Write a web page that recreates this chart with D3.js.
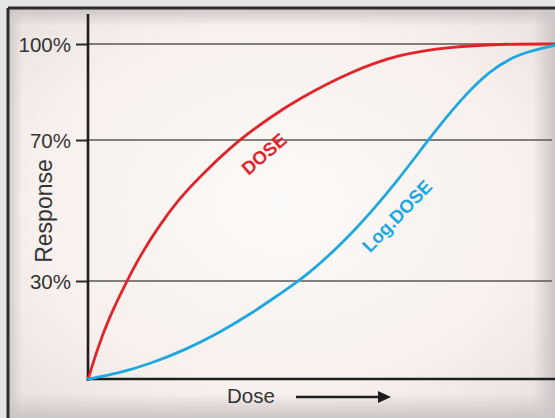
<!DOCTYPE html>
<html>
<head>
    <title>Dose response</title>
    <script src='https://cdn.jsdelivr.net/npm/d3@7/dist/d3.min.js' charset='utf-8'></script>
    <style type="text/css">
        html, body { margin: 0; padding: 0; background: #fff; }
        svg { display: block; }
        .chart text { font-family: "Liberation Sans", Arial, sans-serif; fill: #333; }
    </style>
</head>
<body>
    <svg class='chart'></svg>

    <script type='text/javascript'>
    var width = 555;
    var height = 418;

    // values (dose in % of axis length, response in %)
    var doseRed = [0, 2.2, 4.3, 8.3, 11.5, 15.1, 19.3, 24.3, 32.2, 39.3, 44.7, 56.1, 66.8, 77.5, 88.2, 100];
    var respRed = [0, 9.9, 18.1, 30, 37.9, 45.4, 53, 60.1, 70, 77.3, 82.5, 91.3, 96.9, 99.1, 100, 100];

    var doseBlue = [0, 6.5, 13.6, 20.8, 27.9, 35.1, 42.2, 46.5, 56.1, 66.8, 72.8, 79.7, 86.1, 92.5, 100];
    var respBlue = [0, 1.7, 4.8, 8.9, 14, 20.1, 27.2, 31.2, 42.5, 59.2, 70, 82.5, 91.9, 97.2, 99.6];

    var seriesNames = ['DOSE', 'Log.DOSE'];
    var seriesColors = ['#e2242a', '#1fa8df'];
    var tickValues = [30, 70, 100];
    var tickLabels = ['30%', '70%', '100%'];

    var svg = d3.select('.chart')
        .attr('width', width)
        .attr('height', height);

    var defs = svg.append('defs');
    var grad = defs.append('radialGradient')
        .attr('id', 'bg')
        .attr('cx', '50%').attr('cy', '48%').attr('r', '70%');
    grad.append('stop').attr('offset', '0%').attr('stop-color', '#fcfaf8');
    grad.append('stop').attr('offset', '65%').attr('stop-color', '#f7f0ed');
    grad.append('stop').attr('offset', '100%').attr('stop-color', '#e8e0de');

    function shade(id, x2, y2, from, to) {
        var g = defs.append('linearGradient')
            .attr('id', id)
            .attr('x1', 0).attr('y1', 0).attr('x2', x2).attr('y2', y2);
        g.append('stop').attr('offset', '0%').attr('stop-color', '#cdc6c6').attr('stop-opacity', from);
        g.append('stop').attr('offset', '100%').attr('stop-color', '#cdc6c6').attr('stop-opacity', to);
    }
    shade('bottomShade', 0, 1, 0, 1);
    shade('rightShade', 1, 0, 0, 1);
    shade('topShade', 0, 1, 1, 0);
    shade('leftShade', 1, 0, 0.9, 0);

    // frame
    svg.append('rect').attr('x', 0).attr('y', 0).attr('width', width).attr('height', height).attr('fill', '#e6e4e4');
    svg.append('rect').attr('x', 8).attr('y', 8).attr('width', width - 8).attr('height', height - 8).attr('fill', 'url(#bg)');
    svg.append('rect').attr('x', 8).attr('y', 394).attr('width', width - 8).attr('height', 24).attr('fill', 'url(#bottomShade)');
    svg.append('rect').attr('x', 533).attr('y', 8).attr('width', 22).attr('height', height - 8).attr('fill', 'url(#rightShade)');
    svg.append('rect').attr('x', 8).attr('y', 8).attr('width', width - 8).attr('height', 18).attr('fill', 'url(#topShade)');
    svg.append('rect').attr('x', 8).attr('y', 8).attr('width', 14).attr('height', height - 8).attr('fill', 'url(#leftShade)');
    svg.append('line').attr('x1', 8).attr('x2', width).attr('y1', 8).attr('y2', 8)
        .attr('stroke', '#2e2c2c').attr('stroke-width', 3);
    svg.append('line').attr('x1', 8).attr('x2', 8).attr('y1', 8).attr('y2', height)
        .attr('stroke', '#2e2c2c').attr('stroke-width', 3);

    var x = d3.scaleLinear().domain([0, 100]).range([88, 555]);
    // the drawn axis is not evenly spaced
    var y = d3.scaleLinear().domain([0, 30, 70, 100]).range([379, 281, 140, 44]);

    // gridlines
    svg.append('g').selectAll('line')
        .data(tickValues)
        .enter().append('line')
        .attr('x1', x(0))
        .attr('x2', 552)
        .attr('y1', function (d) { return y(d); })
        .attr('y2', function (d) { return y(d); })
        .attr('stroke', '#5a5757')
        .attr('stroke-width', 1.6);

    // y axis with outside ticks
    var yAxis = d3.axisLeft(y)
        .tickValues(tickValues)
        .tickFormat(function (d, i) { return tickLabels[i]; })
        .tickSize(12)
        .tickPadding(5);

    var yg = svg.append('g')
        .attr('transform', 'translate(' + x(0) + ',0)')
        .call(yAxis);
    yg.select('.domain').remove();
    yg.selectAll('.tick line').attr('stroke', '#2b2929').attr('stroke-width', 2);
    yg.selectAll('.tick text')
        .attr('fill', '#3a3838')
        .style('font-size', '20.5px')
        .attr('dy', '0.36em');

    svg.append('line')
        .attr('x1', x(0)).attr('x2', x(0))
        .attr('y1', 14).attr('y2', 381)
        .attr('stroke', '#1f1d1d').attr('stroke-width', 2.6);
    svg.append('line')
        .attr('x1', x(0) - 1).attr('x2', width)
        .attr('y1', y(0)).attr('y2', y(0))
        .attr('stroke', '#1f1d1d').attr('stroke-width', 2.6);

    // curves (basis smooths small reading errors)
    var line = d3.line()
        .x(function (d) { return x(d[0]); })
        .y(function (d) { return y(d[1]); })
        .curve(d3.curveBasis);

    var series = [d3.zip(doseRed, respRed), d3.zip(doseBlue, respBlue)];
    svg.append('g').selectAll('path')
        .data(series)
        .enter().append('path')
        .attr('d', line)
        .attr('fill', 'none')
        .attr('stroke', function (d, i) { return seriesColors[i]; })
        .attr('stroke-width', 2.8)
        .attr('stroke-linecap', 'round');

    // curve labels
    var labelPos = [[264, 154, -41], [397, 216, -46]];
    svg.append('g').selectAll('text')
        .data(seriesNames)
        .enter().append('text')
        .attr('transform', function (d, i) {
            return 'translate(' + labelPos[i][0] + ',' + labelPos[i][1] + ') rotate(' + labelPos[i][2] + ')';
        })
        .attr('text-anchor', 'middle')
        .attr('dy', '0.35em')
        .style('font-size', '18.5px')
        .style('font-weight', 'bold')
        .style('fill', function (d, i) { return seriesColors[i]; })
        .text(function (d) { return d; });

    // axis titles
    svg.append('text')
        .attr('transform', 'translate(52,211) rotate(-90)')
        .attr('text-anchor', 'middle')
        .style('font-size', '23px')
        .attr('fill', '#3a3838')
        .text('Response');

    svg.append('text')
        .attr('x', 227).attr('y', 403)
        .style('font-size', '20.5px')
        .attr('fill', '#3a3838')
        .text('Dose');

    svg.append('line')
        .attr('x1', 296).attr('x2', 380)
        .attr('y1', 397).attr('y2', 397)
        .attr('stroke', '#1f1d1d').attr('stroke-width', 2.4);
    svg.append('path')
        .attr('d', 'M378,391 L391,397 L378,403 Z')
        .attr('fill', '#1f1d1d');

    </script>
</body>
</html>
